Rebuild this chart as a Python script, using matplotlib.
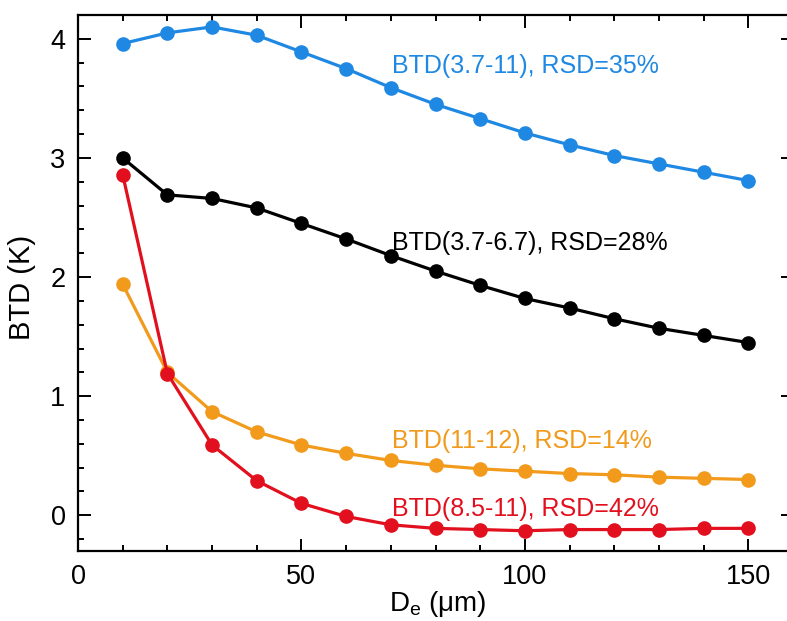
import matplotlib
matplotlib.use("Agg")
import matplotlib.pyplot as plt
from matplotlib.ticker import MultipleLocator

plt.rcParams['font.family'] = ['Liberation Sans', 'DejaVu Sans']
plt.rcParams['mathtext.fontset'] = 'custom'
plt.rcParams['mathtext.rm'] = 'Liberation Sans'
plt.rcParams['mathtext.it'] = 'Liberation Sans'

# Data
De = [10, 20, 30, 40, 50, 60, 70, 80, 90, 100, 110, 120, 130, 140, 150]
btd_37_11 = [3.96, 4.05, 4.10, 4.03, 3.89, 3.75, 3.59, 3.45, 3.33, 3.21, 3.11, 3.02, 2.95, 2.88, 2.81]
btd_37_67 = [3.00, 2.69, 2.66, 2.58, 2.45, 2.32, 2.18, 2.05, 1.93, 1.82, 1.74, 1.65, 1.57, 1.51, 1.45]
btd_11_12 = [1.94, 1.20, 0.87, 0.70, 0.59, 0.52, 0.46, 0.42, 0.39, 0.37, 0.35, 0.34, 0.32, 0.31, 0.30]
btd_85_11 = [2.86, 1.19, 0.59, 0.29, 0.10, -0.01, -0.08, -0.11, -0.12, -0.13, -0.12, -0.12, -0.12, -0.11, -0.11]

series = [
    (btd_37_11, "#1f88e2", "BTD(3.7-11), RSD=35%", 3.77),
    (btd_37_67, "#000000", "BTD(3.7-6.7), RSD=28%", 2.29),
    (btd_11_12, "#f29a1c", "BTD(11-12), RSD=14%", 0.62),
    (btd_85_11, "#e2101e", "BTD(8.5-11), RSD=42%", 0.05),
]

W, H = 787, 621
fig = plt.figure(figsize=(W / 100, H / 100), dpi=100)
left_px, right_px, top_px, bottom_px = 78, 793, 15, 551
ax = fig.add_axes([left_px / W, 1 - bottom_px / H, (right_px - left_px) / W, (bottom_px - top_px) / H])

for vals, col, lab, ly in series:
    ax.plot(De, vals, color=col, lw=2.3, marker='o', ms=9.5, zorder=3)
    ax.text(70.2, ly, lab, color=col, fontsize=18, va='center', ha='left')

ax.set_xlim(0, 160)
ax.set_ylim(-0.3, 4.2)
ax.xaxis.set_major_locator(MultipleLocator(50))
ax.xaxis.set_minor_locator(MultipleLocator(10))
ax.yaxis.set_major_locator(MultipleLocator(1))
ax.yaxis.set_minor_locator(MultipleLocator(0.2))
ax.tick_params(which='both', direction='in', top=True, right=True, labelsize=19.5, width=1.4, pad=9)
ax.tick_params(which='major', length=9)
ax.tick_params(which='minor', length=4.5)
for s in ax.spines.values():
    s.set_linewidth(1.6)

pw = right_px - left_px
ph = bottom_px - top_px
ax.set_ylabel("BTD (K)", fontsize=21)
ax.yaxis.set_label_coords((22 - left_px) / pw, (bottom_px - 287) / ph)
ax.yaxis.label.set_va('center')
ax.set_xlabel(r"D$_\mathregular{e}$ ($\mathregular{\mu}$m)", fontsize=20)
ax.xaxis.set_label_coords((438 - left_px) / pw, -(619 - bottom_px) / ph)
ax.xaxis.label.set_va('bottom')

fig.savefig("out.png", dpi=100)
